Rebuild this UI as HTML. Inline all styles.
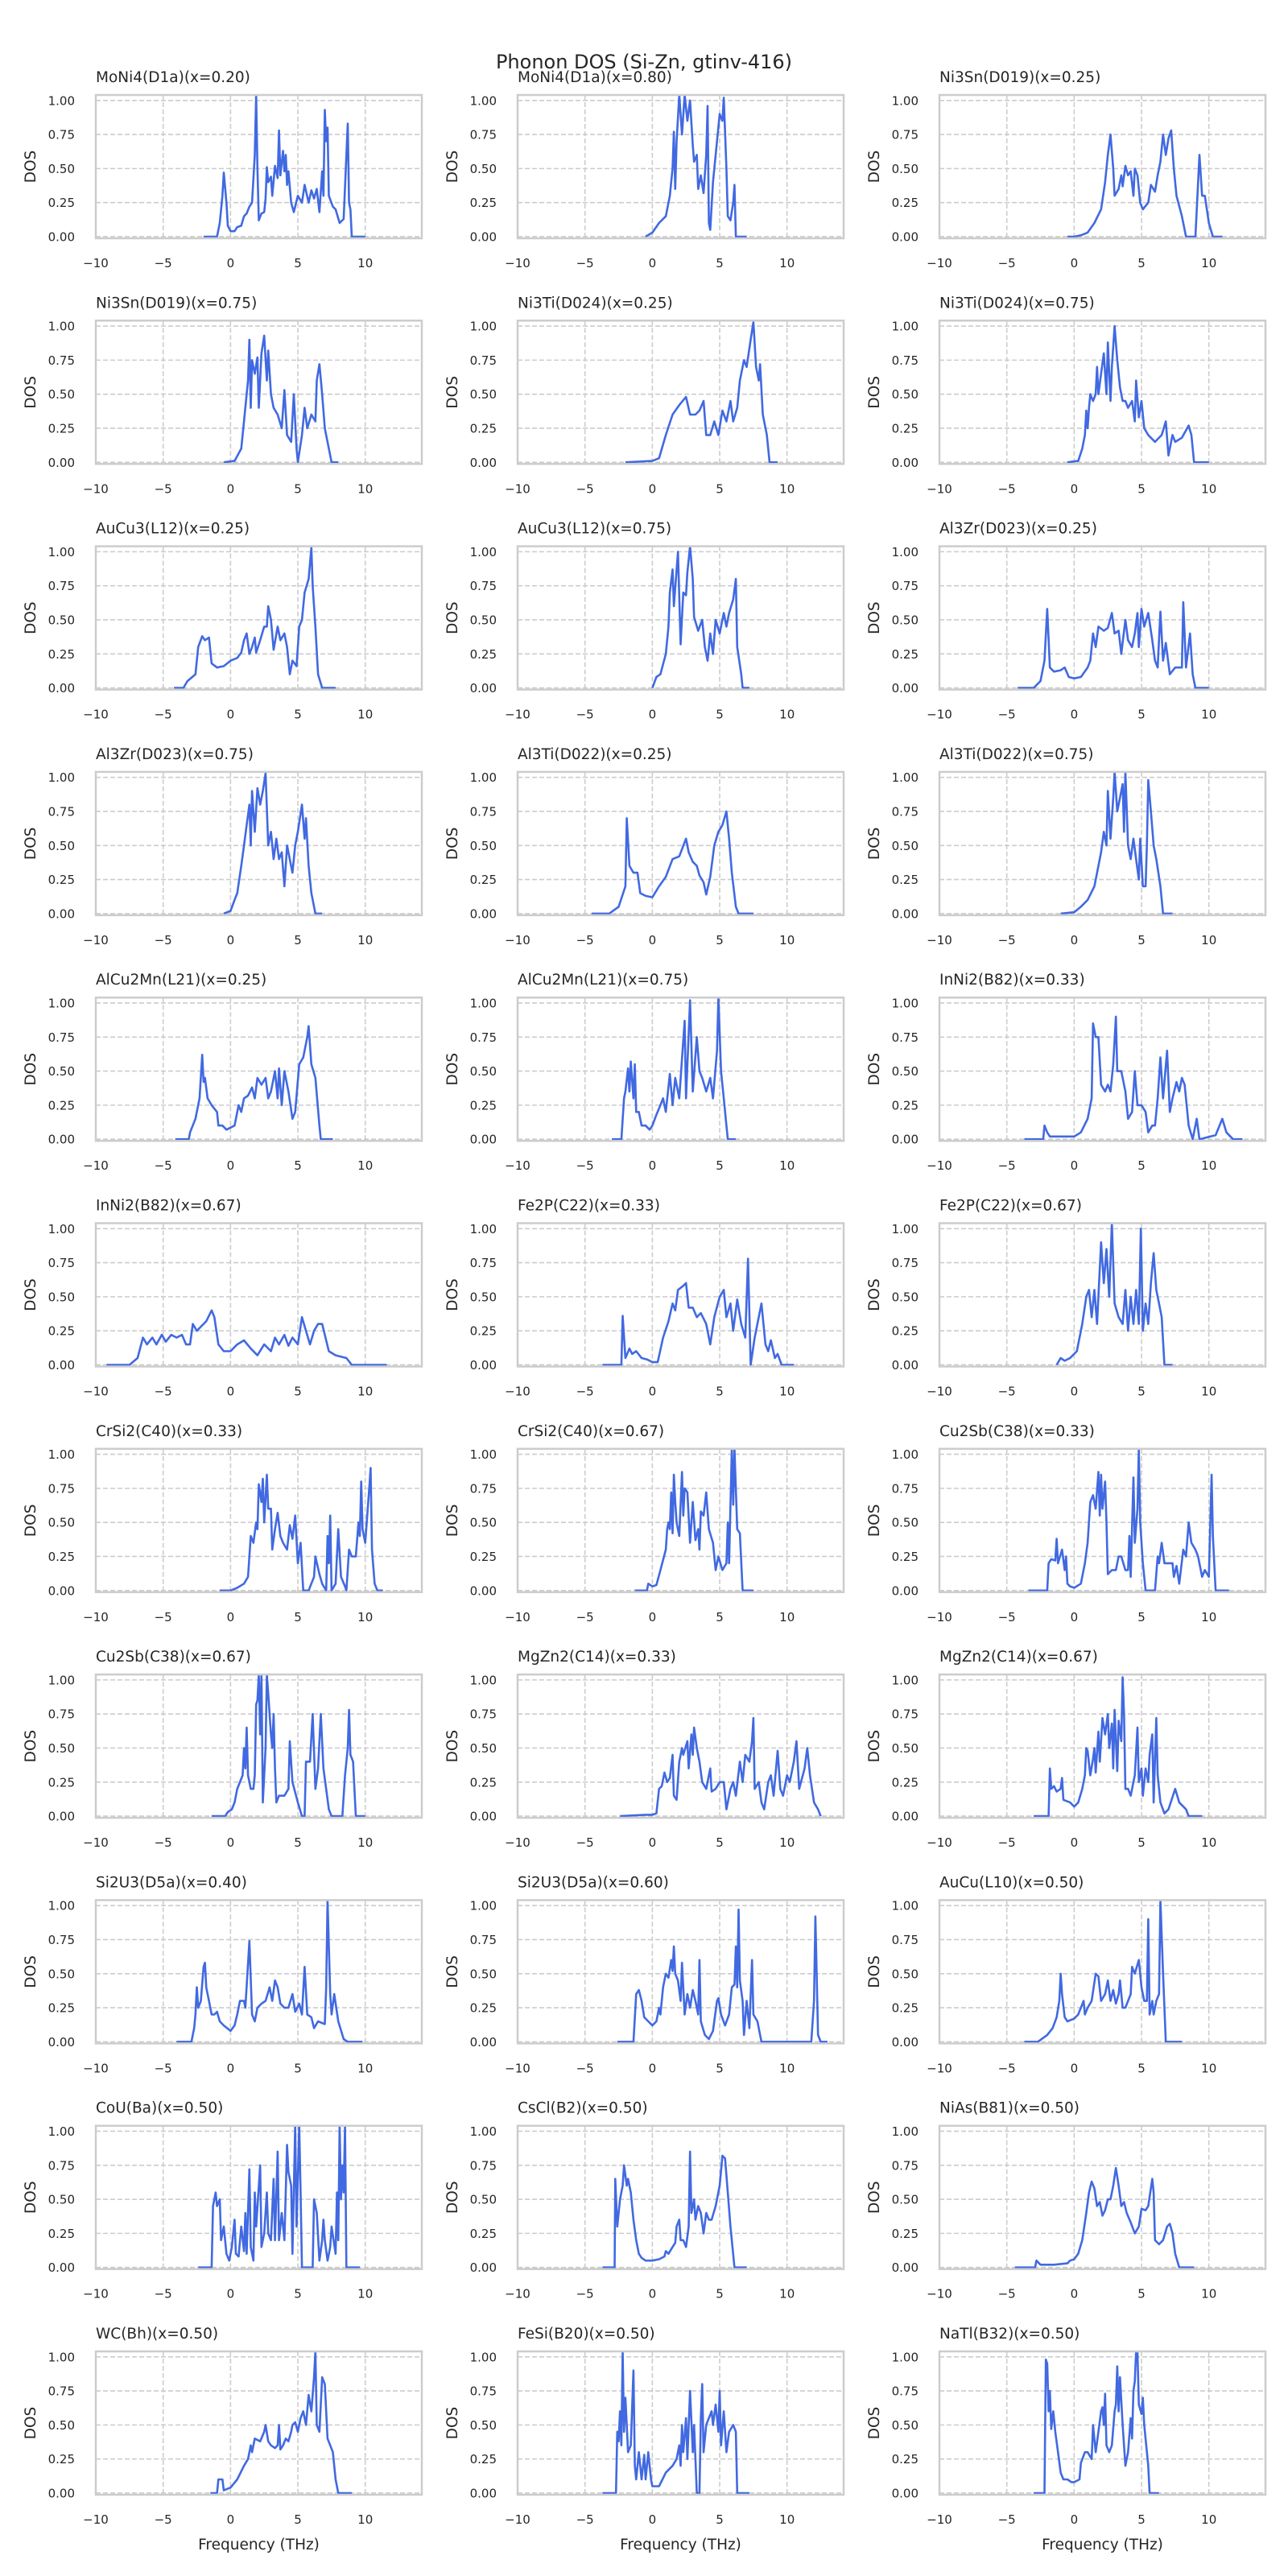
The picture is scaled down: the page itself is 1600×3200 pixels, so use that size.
<!DOCTYPE html>
<html><head><meta charset="utf-8"><title>Phonon DOS (Si-Zn, gtinv-416)</title>
<style>
html,body{margin:0;padding:0;background:#fff;}
svg{display:block;font-family:"DejaVu Sans","Liberation Sans",sans-serif;}
</style></head>
<body>
<svg id="fig" width="1600" height="3200" viewBox="0 0 1600 3200" xmlns="http://www.w3.org/2000/svg">
<rect width="1600" height="3200" fill="#ffffff"/>
<text x="800" y="85" text-anchor="middle" font-size="24" fill="#262626">Phonon DOS (Si-Zn, gtinv-416)</text>
</svg>
<script>
const titles = ["MoNi4(D1a)(x=0.20)","MoNi4(D1a)(x=0.80)","Ni3Sn(D019)(x=0.25)","Ni3Sn(D019)(x=0.75)","Ni3Ti(D024)(x=0.25)","Ni3Ti(D024)(x=0.75)","AuCu3(L12)(x=0.25)","AuCu3(L12)(x=0.75)","Al3Zr(D023)(x=0.25)","Al3Zr(D023)(x=0.75)","Al3Ti(D022)(x=0.25)","Al3Ti(D022)(x=0.75)","AlCu2Mn(L21)(x=0.25)","AlCu2Mn(L21)(x=0.75)","InNi2(B82)(x=0.33)","InNi2(B82)(x=0.67)","Fe2P(C22)(x=0.33)","Fe2P(C22)(x=0.67)","CrSi2(C40)(x=0.33)","CrSi2(C40)(x=0.67)","Cu2Sb(C38)(x=0.33)","Cu2Sb(C38)(x=0.67)","MgZn2(C14)(x=0.33)","MgZn2(C14)(x=0.67)","Si2U3(D5a)(x=0.40)","Si2U3(D5a)(x=0.60)","AuCu(L10)(x=0.50)","CoU(Ba)(x=0.50)","CsCl(B2)(x=0.50)","NiAs(B81)(x=0.50)","WC(Bh)(x=0.50)","FeSi(B20)(x=0.50)","NaTl(B32)(x=0.50)"];
const xTicks = [-10,-5,0,5,10];
const xTickLabels = ["\u221210","\u22125","0","5","10"];
const yTicks = [0,0.25,0.5,0.75,1.0];
const yTickLabels = ["0.00","0.25","0.50","0.75","1.00"];
const xLim = [-10, 14.2];
const yLim = [-0.012, 1.04];

const dos01 = [[-2,0],[-1,0],[-0.8,.1],[-0.6,.3],[-0.5,.47],[-0.3,.25],[-0.2,.08],[0,.04],[0.3,.04],[0.5,.07],[0.8,.08],[1.0,.15],[1.2,.17],[1.4,.22],[1.6,.25],[1.8,.6],[1.9,1.04],[2.0,.5],[2.1,.12],[2.3,.17],[2.5,.18],[2.6,.28],[2.7,.51],[2.8,.4],[3.0,.44],[3.1,.3],[3.3,.52],[3.5,.43],[3.6,.78],[3.7,.45],[3.9,.63],[4.0,.48],[4.1,.6],[4.2,.38],[4.3,.48],[4.5,.25],[4.7,.18],[5.0,.3],[5.3,.25],[5.5,.38],[5.8,.25],[6.0,.34],[6.2,.28],[6.4,.35],[6.6,.18],[6.8,.48],[6.9,.3],[7.0,.93],[7.1,.7],[7.2,.8],[7.3,.3],[7.6,.22],[7.8,.2],[8.1,.1],[8.4,.13],[8.6,.6],[8.7,.83],[8.8,.25],[8.9,.2],[9.0,0],[10,0]];
const dos02 = [[-0.5,0],[0,.03],[0.5,.1],[1.0,.15],[1.3,.3],[1.5,.5],[1.6,.77],[1.7,.35],[1.8,.7],[2.0,1.04],[2.2,.75],[2.4,1.04],[2.6,.85],[2.8,1.0],[3.0,.67],[3.1,.55],[3.3,.6],[3.4,.35],[3.6,.45],[3.8,.32],[4.0,.6],[4.1,.96],[4.2,.1],[4.3,.05],[4.5,.4],[5.0,.9],[5.2,.85],[5.3,1.02],[5.5,.5],[5.6,.15],[5.8,.12],[6.0,.25],[6.1,.38],[6.2,0],[7,0]];
const dos03 = [[-0.5,0],[0,0],[0.5,.01],[1.0,.03],[1.5,.1],[2.0,.2],[2.3,.4],[2.5,.6],[2.7,.75],[2.9,.5],[3.0,.3],[3.3,.35],[3.5,.45],[3.6,.37],[3.8,.52],[4.0,.45],[4.2,.48],[4.4,.3],[4.5,.5],[4.7,.45],[4.9,.25],[5.1,.2],[5.5,.25],[5.7,.38],[6.0,.33],[6.2,.45],[6.4,.55],[6.6,.75],[6.8,.6],[7.0,.72],[7.2,.78],[7.4,.5],[7.6,.3],[8.0,.15],[8.3,0],[9.0,0],[9.3,.6],[9.5,.3],[9.7,.3],[10.0,.1],[10.3,0],[11,0]];
const dos04 = [[-0.5,0],[0.3,.01],[0.8,.1],[1.0,.3],[1.2,.5],[1.3,.6],[1.4,.9],[1.5,.4],[1.6,.75],[1.8,.65],[2.0,.77],[2.1,.4],[2.3,.8],[2.5,.93],[2.7,.6],[2.8,.82],[3.0,.5],[3.2,.4],[3.5,.35],[3.8,.25],[4.0,.53],[4.2,.2],[4.5,.15],[4.7,.5],[4.9,.1],[5.0,0],[5.3,.2],[5.5,.4],[5.7,.25],[6.0,.35],[6.3,.3],[6.4,.6],[6.6,.72],[6.8,.5],[7.0,.25],[7.3,.1],[7.5,0],[8,0]];
const dos05 = [[-2,0],[0,.01],[0.5,.03],[1,.2],[1.5,.35],[2.0,.42],[2.5,.48],[2.8,.35],[3.2,.35],[3.5,.38],[3.8,.45],[4.0,.2],[4.3,.2],[4.6,.3],[4.9,.2],[5.2,.38],[5.5,.3],[5.8,.45],[6.0,.3],[6.3,.4],[6.5,.6],[6.8,.75],[7.0,.7],[7.3,.9],[7.5,1.03],[7.7,.7],[7.9,.6],[8.0,.72],[8.2,.35],[8.5,.2],[8.7,0],[9.3,0]];
const dos06 = [[-0.5,0],[0.3,.01],[0.6,.1],[0.8,.2],[0.9,.38],[1.0,.25],[1.1,.4],[1.2,.5],[1.4,.45],[1.6,.5],[1.7,.7],[1.8,.5],[2.0,.65],[2.2,.8],[2.4,.5],[2.5,.88],[2.7,.45],[2.8,.7],[3.0,1.0],[3.2,.75],[3.4,.55],[3.6,.45],[3.8,.45],[4.0,.4],[4.3,.45],[4.5,.3],[4.6,.6],[4.8,.33],[5.0,.45],[5.2,.25],[5.5,.2],[6.0,.15],[6.5,.2],[6.8,.3],[7.0,.05],[7.3,.2],[7.5,.15],[8.0,.18],[8.5,.27],[8.7,.2],[8.9,0],[10,0]];
const dos07 = [[-4.2,0],[-3.5,0],[-3.2,.05],[-2.6,.1],[-2.4,.3],[-2.1,.38],[-1.9,.35],[-1.6,.37],[-1.4,.18],[-1.0,.15],[-0.5,.16],[0,.2],[0.5,.22],[0.8,.26],[1.0,.35],[1.2,.4],[1.4,.25],[1.6,.3],[1.8,.37],[1.9,.26],[2.2,.35],[2.5,.45],[2.7,.45],[2.8,.6],[3.0,.5],[3.2,.28],[3.5,.45],[3.7,.35],[4.0,.4],[4.2,.3],[4.4,.1],[4.6,.2],[4.9,.16],[5.1,.45],[5.3,.5],[5.5,.7],[5.8,.8],[6.0,1.03],[6.1,.75],[6.3,.45],[6.5,.1],[6.8,0],[7.8,0]];
const dos08 = [[0,0],[0.3,.08],[0.6,.1],[1.0,.25],[1.2,.45],[1.3,.7],[1.5,.87],[1.6,.6],[1.9,1.0],[2.1,.32],[2.3,.7],[2.5,.68],[2.6,.85],[2.8,1.04],[3.0,.8],[3.1,.52],[3.4,.42],[3.7,.5],[3.9,.3],[4.1,.2],[4.3,.4],[4.5,.25],[4.7,.5],[5.0,.4],[5.3,.55],[5.5,.45],[5.7,.55],[6.0,.65],[6.2,.8],[6.3,.3],[6.6,.1],[6.7,0],[7.2,0]];
const dos09 = [[-4.2,0],[-3.0,0],[-2.5,.05],[-2.2,.2],[-2.0,.58],[-1.8,.15],[-1.5,.12],[-1.0,.13],[-0.7,.15],[-0.4,.08],[0,.07],[0.5,.08],[1.0,.15],[1.2,.2],[1.4,.4],[1.6,.3],[1.8,.45],[2.2,.42],[2.5,.44],[2.8,.55],[3.0,.4],[3.3,.42],[3.5,.25],[3.8,.5],[4.0,.35],[4.3,.3],[4.5,.4],[4.7,.55],[4.8,.3],[5.0,.58],[5.2,.45],[5.5,.55],[5.8,.35],[6.0,.2],[6.2,.15],[6.4,.56],[6.6,.2],[6.8,.33],[7.1,.1],[7.5,.15],[8.0,.15],[8.1,.63],[8.3,.15],[8.6,.4],[8.8,.1],[9.0,0],[10,0]];
const dos10 = [[-0.5,0],[0,.02],[0.3,.1],[0.5,.15],[0.8,.35],[1.0,.5],[1.2,.65],[1.4,.8],[1.5,.5],[1.6,.9],[1.8,.6],[2.0,.92],[2.2,.8],[2.4,.9],[2.6,1.03],[2.8,.5],[3.0,.6],[3.2,.4],[3.4,.55],[3.6,.4],[3.8,.45],[4.0,.2],[4.2,.5],[4.6,.3],[4.8,.5],[5.0,.6],[5.3,.8],[5.5,.55],[5.6,.7],[5.8,.35],[6.0,.15],[6.3,0],[6.8,0]];
const dos11 = [[-4.5,0],[-3.2,0],[-2.5,.05],[-2.0,.2],[-1.9,.7],[-1.7,.35],[-1.4,.3],[-1.1,.3],[-0.9,.15],[-0.5,.13],[0,.12],[0.5,.2],[1.0,.27],[1.5,.4],[2.0,.42],[2.5,.55],[2.7,.45],[3.0,.38],[3.3,.35],[3.5,.28],[3.8,.23],[4.0,.14],[4.3,.27],[4.6,.5],[4.9,.6],[5.2,.65],[5.5,.75],[5.7,.55],[5.9,.3],[6.2,.05],[6.4,0],[7.5,0]];
const dos12 = [[-1,0],[0,.01],[0.5,.05],[1,.1],[1.5,.2],[1.8,.35],[2.0,.45],[2.2,.6],[2.4,.5],[2.5,.9],[2.7,.55],[2.9,.85],[3.0,1.04],[3.2,.75],[3.4,.85],[3.6,.95],[3.7,.6],[3.8,1.04],[4.0,.5],[4.2,.4],[4.4,.55],[4.6,.4],[4.8,.25],[4.9,.55],[5.1,.2],[5.3,.2],[5.4,.5],[5.5,.98],[5.7,.75],[5.9,.5],[6.1,.4],[6.4,.2],[6.6,0],[7.3,0]];
const dos13 = [[-4.1,0],[-3.1,0],[-3.0,.05],[-2.6,.15],[-2.3,.3],[-2.1,.62],[-2.0,.42],[-1.9,.45],[-1.7,.3],[-1.4,.25],[-1.0,.2],[-0.9,.1],[-0.6,.1],[-0.3,.07],[0.3,.1],[0.6,.25],[0.8,.2],[1.0,.3],[1.3,.32],[1.6,.38],[1.8,.3],[2.0,.45],[2.3,.4],[2.6,.45],[2.8,.3],[3.0,.35],[3.3,.5],[3.5,.3],[3.6,.52],[3.8,.25],[4.0,.5],[4.3,.35],[4.6,.15],[4.8,.2],[5.1,.55],[5.4,.6],[5.7,.75],[5.8,.83],[6.0,.55],[6.3,.45],[6.6,.1],[6.7,0],[7.6,0]];
const dos14 = [[-3.0,0],[-2.3,0],[-2.1,.3],[-2.0,.35],[-1.8,.52],[-1.7,.35],[-1.6,.57],[-1.4,.3],[-1.3,.55],[-1.2,.2],[-1.0,.2],[-0.8,.1],[-0.5,.1],[-0.2,.07],[0,.1],[0.3,.18],[0.6,.25],[0.8,.3],[1.0,.2],[1.3,.48],[1.5,.25],[1.7,.45],[2.0,.3],[2.4,.87],[2.5,.3],[2.8,1.02],[3.0,.35],[3.3,.75],[3.5,.5],[3.7,.45],[4.0,.35],[4.3,.45],[4.5,.3],[4.8,.65],[4.9,1.04],[5.1,.5],[5.3,.3],[5.5,.1],[5.6,0],[6.2,0]];
const dos15 = [[-3.7,0],[-2.3,0],[-2.2,.1],[-2.0,.05],[-1.8,.02],[-1.0,.02],[0,.02],[0.5,.05],[1.0,.15],[1.3,.3],[1.4,.85],[1.6,.75],[1.8,.75],[2.0,.4],[2.3,.35],[2.5,.4],[2.7,.35],[2.9,.55],[3.1,.9],[3.2,.5],[3.5,.5],[3.8,.35],[4.0,.15],[4.3,.2],[4.5,.5],[4.7,.25],[5.0,.25],[5.3,.2],[5.5,.05],[5.8,.1],[6.0,.1],[6.2,.3],[6.4,.6],[6.6,.3],[6.9,.65],[7.1,.2],[7.3,.3],[7.6,.42],[7.8,.35],[8.0,.45],[8.2,.4],[8.5,.1],[8.8,0],[9.1,.15],[9.3,0],[10.5,.03],[11.0,.15],[11.3,.05],[11.8,0],[12.5,0]];
const dos16 = [[-9.2,0],[-7.5,0],[-6.9,.05],[-6.5,.2],[-6.2,.15],[-5.8,.2],[-5.5,.15],[-5.1,.22],[-4.8,.17],[-4.4,.22],[-4.0,.2],[-3.6,.22],[-3.3,.15],[-3.0,.15],[-2.8,.3],[-2.5,.25],[-2.2,.28],[-1.8,.32],[-1.4,.4],[-1.2,.35],[-0.9,.15],[-0.5,.1],[0,.1],[0.5,.15],[1.0,.18],[1.5,.12],[2.0,.07],[2.5,.15],[3.0,.1],[3.3,.2],[3.6,.15],[4.0,.22],[4.3,.14],[4.6,.2],[5.0,.15],[5.3,.35],[5.6,.25],[5.9,.15],[6.2,.25],[6.5,.3],[6.8,.3],[7.3,.1],[7.8,.07],[8.6,.05],[9.0,0],[11.6,0]];
const dos17 = [[-3.7,0],[-2.3,0],[-2.2,.36],[-2.0,.05],[-1.7,.12],[-1.5,.08],[-1.2,.1],[-0.8,.05],[-0.4,.04],[0,.02],[0.4,.02],[0.8,.2],[1.2,.32],[1.5,.45],[1.7,.4],[1.9,.55],[2.3,.58],[2.5,.6],[2.7,.42],[3.0,.42],[3.3,.35],[3.6,.38],[4.0,.3],[4.3,.15],[4.6,.35],[5.0,.5],[5.3,.55],[5.5,.35],[5.8,.45],[6.0,.25],[6.3,.48],[6.6,.3],[6.9,.2],[7.1,.78],[7.3,0],[7.6,.2],[8.1,.45],[8.4,.15],[8.6,.1],[8.8,.18],[9.1,.05],[9.3,.08],[9.6,0],[10.5,0]];
const dos18 = [[-1.3,0],[-1.0,.05],[-0.7,.03],[-0.3,.05],[0.2,.1],[0.6,.3],[0.9,.5],[1.1,.55],[1.3,.35],[1.5,.55],[1.7,.3],[2.0,.9],[2.2,.6],[2.4,.85],[2.6,.5],[2.8,1.04],[3.0,.45],[3.3,.35],[3.6,.3],[3.8,.55],[4.0,.25],[4.2,.5],[4.4,.3],[4.6,.55],[4.8,.3],[4.95,1.0],[5.1,.25],[5.3,.45],[5.5,.3],[5.7,.6],[5.9,.82],[6.1,.55],[6.3,.45],[6.5,.35],[6.7,0],[7.3,0]];
const dos19 = [[-0.8,0],[0,0],[0.5,.02],[1.0,.05],[1.3,.1],[1.5,.4],[1.7,.35],[1.9,.5],[2.0,.45],[2.1,.78],[2.3,.65],[2.4,.82],[2.5,.5],[2.7,.85],[2.8,.6],[3.0,.6],[3.1,.3],[3.3,.45],[3.5,.57],[3.7,.4],[3.9,.35],[4.2,.3],[4.4,.48],[4.6,.38],[4.8,.55],[5.0,.2],[5.2,.35],[5.4,0],[5.8,0],[6.2,.1],[6.3,.25],[6.6,.12],[6.8,.05],[7.1,0],[7.2,.4],[7.3,.2],[7.4,.55],[7.5,0],[7.8,.05],[8.0,.45],[8.2,.1],[8.5,.03],[8.6,0],[8.8,.3],[9.0,.25],[9.3,.25],[9.5,.5],[9.6,.4],[9.7,.8],[9.8,.45],[10.0,.35],[10.3,.75],[10.4,.9],[10.5,.3],[10.7,.05],[10.9,0],[11.3,0]];
const dos20 = [[-1.3,0],[-0.4,0],[-0.3,.05],[0,.03],[0.3,.04],[0.6,.15],[1.0,.3],[1.1,.45],[1.2,.5],[1.3,.45],[1.4,.72],[1.5,.42],[1.6,.85],[1.7,.65],[1.8,.5],[2.0,.4],[2.2,.87],[2.3,.55],[2.4,.75],[2.6,.72],[2.8,.35],[3.0,.65],[3.2,.37],[3.4,.45],[3.5,.3],[3.6,.58],[3.8,.55],[4.0,.72],[4.2,.45],[4.5,.35],[4.7,.15],[4.9,.25],[5.2,.15],[5.5,.2],[5.6,.5],[5.7,.2],[5.9,1.04],[6.0,.63],[6.1,1.04],[6.3,.45],[6.5,.42],[6.7,0],[7.5,0]];
const dos21 = [[-3.4,0],[-2.0,0],[-1.9,.2],[-1.7,.23],[-1.4,.22],[-1.3,.38],[-1.2,.2],[-0.9,.3],[-0.7,.15],[-0.6,.25],[-0.5,.05],[-0.3,.03],[0,.02],[0.5,.05],[0.8,.2],[1.0,.35],[1.2,.65],[1.4,.7],[1.6,.6],[1.8,.87],[1.9,.55],[2.0,.85],[2.1,.6],[2.3,.8],[2.4,.5],[2.5,.12],[2.8,.15],[3.1,.15],[3.3,.25],[3.5,.25],[3.8,.15],[4.0,.15],[4.1,.4],[4.2,.1],[4.4,.83],[4.5,.35],[4.7,.6],[4.8,1.04],[4.9,.5],[5.1,.2],[5.3,0],[6.0,0],[6.2,.25],[6.3,.2],[6.5,.35],[6.7,.2],[7.0,.2],[7.3,.2],[7.4,.1],[7.6,.18],[7.8,.05],[8.1,.3],[8.3,.25],[8.5,.5],[8.7,.35],[9.0,.3],[9.2,.25],[9.5,.1],[9.7,.15],[10.0,.1],[10.2,.85],[10.3,.4],[10.5,0],[11.5,0]];
const dos22 = [[-1.4,0],[-0.4,0],[-0.2,.03],[0.1,.05],[0.3,.1],[0.5,.2],[0.7,.25],[0.9,.3],[1.0,.5],[1.1,.35],[1.2,.65],[1.3,.3],[1.5,.2],[1.7,.2],[1.8,.3],[1.9,.82],[2.0,.85],[2.1,1.04],[2.2,.6],[2.3,1.04],[2.4,.1],[2.6,.5],[2.7,1.04],[2.8,.9],[3.0,.6],[3.1,.5],[3.2,.75],[3.3,.35],[3.4,.1],[3.6,.15],[3.8,.15],[4.0,.15],[4.3,.2],[4.4,.55],[4.6,.25],[5.0,.1],[5.3,0],[5.5,0],[5.6,.4],[5.9,.4],[6.1,.75],[6.3,.2],[6.5,.35],[6.7,.75],[6.9,.35],[7.3,.05],[7.5,0],[8.3,0],[8.5,.3],[8.7,.5],[8.8,.78],[8.9,.45],[9.1,.4],[9.3,0],[10,0]];
const dos23 = [[-2.4,0],[-0.5,.01],[0,.01],[0.3,.02],[0.5,.2],[0.7,.22],[0.9,.32],[1.1,.25],[1.3,.28],[1.5,.45],[1.6,.15],[1.8,.12],[2.0,.4],[2.2,.5],[2.3,.45],[2.6,.55],[2.7,.35],[2.9,.6],[3.0,.45],[3.1,.65],[3.3,.5],[3.5,.4],[3.7,.25],[4.0,.2],[4.3,.35],[4.4,.18],[4.7,.2],[5.0,.25],[5.3,.25],[5.5,.05],[5.8,.2],[6.0,.25],[6.2,.15],[6.5,.4],[6.7,.25],[6.9,.45],[7.2,.4],[7.4,.55],[7.5,.72],[7.6,.2],[7.9,.25],[8.1,.1],[8.3,.05],[8.6,.25],[8.8,.3],[9.0,.15],[9.3,.48],[9.5,.2],[9.7,.15],[10.0,.3],[10.2,.25],[10.5,.4],[10.7,.55],[10.9,.2],[11.3,.35],[11.5,.5],[11.7,.3],[12.0,.1],[12.3,.05],[12.5,0]];
const dos24 = [[-3.0,0],[-1.9,0],[-1.8,.35],[-1.7,.2],[-1.5,.22],[-1.3,.18],[-1.0,.2],[-0.9,.28],[-0.8,.12],[-0.3,.1],[0,.07],[0.3,.1],[0.6,.2],[0.8,.3],[0.9,.5],[1.0,.48],[1.2,.3],[1.4,.42],[1.5,.5],[1.6,.32],[1.8,.62],[1.9,.4],[2.1,.72],[2.3,.6],[2.5,.75],[2.6,.5],[2.8,.68],[2.9,.35],[3.0,.78],[3.2,.33],[3.3,.7],[3.5,.55],[3.6,1.02],[3.7,.75],[3.8,.2],[4.0,.2],[4.2,.15],[4.5,.3],[4.7,.65],[4.8,.25],[5.0,.35],[5.1,.15],[5.3,.35],[5.5,.25],[5.6,.45],[5.8,.6],[5.9,.1],[6.1,.72],[6.2,.3],[6.4,.1],[6.7,.02],[7.0,.05],[7.5,.2],[7.8,.1],[8.3,.05],[8.5,0],[9.5,0]];
const dos25 = [[-4.0,0],[-2.9,0],[-2.7,.1],[-2.6,.2],[-2.5,.4],[-2.4,.25],[-2.2,.3],[-2.0,.55],[-1.9,.58],[-1.8,.4],[-1.6,.3],[-1.4,.2],[-1.2,.2],[-1.0,.22],[-0.8,.15],[-0.5,.12],[0,.08],[0.3,.12],[0.5,.2],[0.7,.3],[1.0,.3],[1.1,.25],[1.4,.74],[1.6,.2],[1.8,.15],[2.0,.25],[2.3,.28],[2.6,.3],[2.9,.4],[3.1,.3],[3.3,.45],[3.5,.4],[3.7,.28],[4.0,.25],[4.3,.25],[4.6,.35],[4.8,.22],[5.1,.28],[5.3,.2],[5.5,.55],[5.7,.2],[6.0,.18],[6.2,.1],[6.5,.15],[7.0,.13],[7.1,.4],[7.2,1.04],[7.4,.35],[7.5,.2],[7.7,.35],[8.0,.15],[8.4,.02],[8.7,0],[9.8,0]];
const dos26 = [[-2.6,0],[-1.4,0],[-1.2,.35],[-1.0,.38],[-0.8,.3],[-0.6,.18],[-0.3,.15],[0,.12],[0.3,.15],[0.5,.25],[0.6,.2],[0.8,.4],[1.0,.5],[1.2,.47],[1.4,.6],[1.5,.52],[1.6,.7],[1.7,.5],[1.9,.45],[2.1,.3],[2.2,.58],[2.4,.2],[2.6,.35],[2.8,.25],[3.0,.38],[3.2,.3],[3.4,.2],[3.5,.6],[3.6,.15],[3.9,.05],[4.2,.02],[4.5,.08],[4.8,.3],[4.9,.32],[5.1,.2],[5.4,.12],[5.7,.2],[5.9,.4],[6.1,.42],[6.2,.7],[6.3,.4],[6.4,.97],[6.5,.45],[6.7,.3],[6.8,.05],[7.0,.3],[7.2,.1],[7.4,.6],[7.5,.2],[7.8,.15],[8.1,0],[11.8,0],[12.0,.3],[12.1,.92],[12.3,.05],[12.5,0],[13.0,0]];
const dos27 = [[-3.7,0],[-2.7,0],[-2.0,.05],[-1.6,.1],[-1.3,.18],[-1.1,.3],[-1.0,.5],[-0.9,.35],[-0.7,.18],[-0.5,.15],[0,.17],[0.3,.2],[0.5,.25],[0.7,.3],[0.8,.2],[1.0,.25],[1.3,.3],[1.6,.5],[1.8,.48],[2.0,.3],[2.3,.35],[2.5,.45],[2.7,.3],[2.9,.38],[3.1,.28],[3.3,.35],[3.4,.45],[3.6,.25],[3.8,.25],[4.2,.35],[4.3,.55],[4.5,.5],[4.8,.6],[5.0,.4],[5.2,.3],[5.4,.3],[5.5,.9],[5.6,.2],[5.8,.3],[5.9,.2],[6.1,.3],[6.3,.35],[6.4,1.04],[6.6,.5],[6.8,0],[8.0,0]];
const dos28 = [[-2.4,0],[-1.4,0],[-1.3,.45],[-1.1,.55],[-1.0,.45],[-0.8,.5],[-0.7,.2],[-0.5,.3],[-0.3,.1],[-0.1,.05],[0.1,.15],[0.3,.35],[0.4,.1],[0.6,.08],[0.8,.3],[1.0,.12],[1.1,.4],[1.2,.1],[1.4,.72],[1.5,.15],[1.7,.05],[1.8,.55],[1.9,.3],[2.2,.75],[2.3,.15],[2.5,.25],[2.7,.55],[2.8,.25],[3.0,.2],[3.2,.65],[3.3,.2],[3.5,.85],[3.6,.2],[3.8,.4],[4.0,.2],[4.2,.9],[4.3,.7],[4.5,.6],[4.6,.1],[4.8,1.04],[4.9,.3],[5.1,1.04],[5.2,.55],[5.3,0],[6.1,0],[6.2,.5],[6.4,.4],[6.6,.05],[6.8,.2],[6.9,.35],[7.0,.2],[7.2,.05],[7.4,.15],[7.5,.3],[7.8,.1],[7.9,.55],[8.0,.2],[8.1,1.04],[8.2,.5],[8.3,.75],[8.4,.55],[8.5,1.04],[8.6,0],[9.6,0]];
const dos29 = [[-3.7,0],[-2.8,0],[-2.75,.65],[-2.6,.3],[-2.4,.5],[-2.2,.6],[-2.1,.75],[-1.9,.6],[-1.8,.65],[-1.6,.55],[-1.4,.35],[-1.2,.2],[-1.0,.1],[-0.8,.07],[-0.5,.05],[0,.05],[0.5,.06],[0.9,.08],[1.0,.12],[1.2,.1],[1.5,.15],[1.7,.18],[1.8,.3],[2.0,.35],[2.1,.2],[2.3,.2],[2.5,.15],[2.7,.3],[2.8,.85],[2.9,.4],[3.1,.5],[3.2,.35],[3.4,.45],[3.6,.4],[3.8,.25],[4.0,.4],[4.2,.35],[4.4,.35],[4.7,.45],[5.0,.6],[5.2,.82],[5.4,.8],[5.6,.55],[5.8,.3],[6.1,0],[7.0,0]];
const dos30 = [[-4.4,0],[-2.9,0],[-2.8,.05],[-2.5,.02],[-1.5,.02],[-0.5,.03],[-0.3,.05],[0,.06],[0.3,.1],[0.6,.2],[0.9,.4],[1.1,.55],[1.3,.63],[1.5,.58],[1.7,.45],[1.9,.48],[2.1,.38],[2.3,.42],[2.5,.5],[2.7,.5],[2.9,.6],[3.1,.73],[3.3,.6],[3.5,.45],[3.7,.48],[3.9,.4],[4.2,.33],[4.5,.25],[4.8,.3],[5.0,.43],[5.3,.42],[5.5,.45],[5.8,.65],[5.9,.55],[6.0,.2],[6.3,.17],[6.6,.2],[6.9,.3],[7.1,.32],[7.3,.25],[7.5,.1],[7.8,0],[8.9,0]];
const dos31 = [[-1.5,0],[-1.0,0],[-0.9,.1],[-0.6,.1],[-0.5,.02],[0,.04],[0.5,.1],[1.0,.2],[1.3,.25],[1.5,.35],[1.6,.3],[1.8,.4],[2.2,.38],[2.5,.45],[2.6,.5],[2.8,.38],[3.0,.35],[3.3,.33],[3.5,.35],[3.6,.5],[3.7,.32],[3.9,.35],[4.1,.4],[4.3,.38],[4.5,.45],[4.6,.5],[4.8,.52],[5.0,.45],[5.2,.55],[5.4,.6],[5.6,.5],[5.8,.72],[6.0,.6],[6.2,.85],[6.3,1.04],[6.4,.5],[6.6,.45],[6.8,.85],[7.0,.8],[7.2,.4],[7.4,.35],[7.6,.3],[7.8,.1],[8.0,0],[9.0,0]];
const dos32 = [[-3.7,0],[-2.7,0],[-2.6,.45],[-2.5,.38],[-2.4,.6],[-2.3,.35],[-2.2,1.04],[-2.1,.45],[-2.0,.7],[-1.8,.3],[-1.6,.35],[-1.4,.9],[-1.3,.2],[-1.2,.1],[-1.0,.3],[-0.8,.1],[-0.6,.28],[-0.5,.1],[-0.3,.3],[-0.1,.1],[0,.05],[0.5,.05],[1.0,.15],[1.5,.2],[1.8,.25],[2.0,.35],[2.1,.2],[2.2,.5],[2.3,.3],[2.5,.55],[2.6,.25],[2.8,.75],[3.0,.3],[3.1,.5],[3.3,0],[3.5,0],[3.6,.55],[3.7,.8],[3.8,.3],[4.0,.5],[4.2,.55],[4.4,.6],[4.5,.5],[4.7,.65],[4.9,.45],[5.0,.75],[5.1,.35],[5.3,.6],[5.5,.3],[5.7,.45],[6.0,.5],[6.2,.45],[6.3,0],[7.2,0]];
const dos33 = [[-3.0,0],[-2.2,0],[-2.1,.98],[-2.0,.95],[-1.9,.6],[-1.8,.75],[-1.7,.47],[-1.55,.6],[-1.4,.45],[-1.2,.3],[-1.0,.15],[-0.8,.1],[-0.5,.1],[-0.2,.08],[0,.08],[0.4,.1],[0.5,.22],[0.8,.3],[1.0,.3],[1.3,.25],[1.4,.5],[1.6,.3],[1.8,.45],[2.0,.6],[2.1,.63],[2.2,.5],[2.3,.73],[2.4,.35],[2.6,.3],[2.8,.35],[3.0,.6],[3.1,.65],[3.2,.93],[3.3,.6],[3.4,.85],[3.6,.5],[3.7,.35],[3.8,.2],[4.0,.3],[4.2,.55],[4.3,.4],[4.4,.75],[4.5,.82],[4.6,1.04],[4.7,1.04],[4.8,.65],[5.0,.58],[5.1,.7],[5.2,.5],[5.5,.2],[5.6,0],[6.3,0]];
const series = [dos01,dos02,dos03,dos04,dos05,dos06,dos07,dos08,dos09,dos10,dos11,dos12,dos13,dos14,dos15,dos16,dos17,dos18,dos19,dos20,dos21,dos22,dos23,dos24,dos25,dos26,dos27,dos28,dos29,dos30,dos31,dos32,dos33];

const NS = "http://www.w3.org/2000/svg";
const svg = document.getElementById('fig');
const AX_W = 405, AX_H = 178;
function colLeft(c){ return 119 + c*524; }
function rowTop(r){ return 118 + r*280.3; }
function mk(tag, attrs, parent){
  const e = document.createElementNS(NS, tag);
  for (const k in attrs) e.setAttribute(k, attrs[k]);
  parent.appendChild(e);
  return e;
}
const defs = mk('defs', {}, svg);

series.forEach((data, i) => {
  const r = Math.floor(i/3), c = i%3;
  const L = colLeft(c), T = rowTop(r);
  const sx = v => L + (v - xLim[0]) / (xLim[1]-xLim[0]) * AX_W;
  const sy = v => T + (yLim[1] - v) / (yLim[1]-yLim[0]) * AX_H;

  const g = mk('g', {}, svg);
  
  

  const cp = mk('clipPath', {id: 'clip' + i}, defs);
  mk('rect', {x: L, y: T, width: AX_W, height: AX_H}, cp);

  xTicks.forEach(t => {
    const gl = mk('line', {x1: sx(t), x2: sx(t), y1: T, y2: T+AX_H, stroke: '#cccccc', 'stroke-width': 1.6, 'stroke-dasharray': '6,3'}, g);
    
    
  });
  yTicks.forEach(t => {
    const gl = mk('line', {x1: L, x2: L+AX_W, y1: sy(t), y2: sy(t), stroke: '#cccccc', 'stroke-width': 1.6, 'stroke-dasharray': '6,3'}, g);
    
    
  });

  const d = data.map((p, k) => (k ? 'L' : 'M') + sx(p[0]).toFixed(1) + ',' + sy(p[1]).toFixed(1)).join('');
  const path = mk('path', {d: d, fill: 'none', stroke: '#4169e1', 'stroke-width': 2.6, 'stroke-linejoin': 'round', 'clip-path': 'url(#clip' + i + ')'}, g);
  
  

  const sp = mk('rect', {x: L, y: T, width: AX_W, height: AX_H, fill: 'none', stroke: '#cccccc', 'stroke-width': 2.5}, g);
  
  

  xTicks.forEach((t, k) => {
    const tx = mk('text', {x: sx(t), y: T+AX_H+36, 'text-anchor': 'middle', 'font-size': 15, fill: '#262626'}, g);
    
    
    tx.textContent = xTickLabels[k];
  });
  yTicks.forEach((t, k) => {
    const tx = mk('text', {x: L-26, y: sy(t)+5.5, 'text-anchor': 'end', 'font-size': 15, fill: '#262626'}, g);
    
    
    tx.textContent = yTickLabels[k];
  });

  const tt = mk('text', {x: L, y: T-16, 'font-size': 18.5, fill: '#262626'}, g);
  
  
  tt.textContent = titles[i];

  const yl = mk('text', {x: 0, y: 0, 'font-size': 18.5, fill: '#262626', 'text-anchor': 'middle', transform: 'translate(' + (L-75) + ',' + (T+AX_H/2) + ') rotate(-90)'}, g);
  
  
  yl.textContent = 'DOS';

  if (r === 10) {
    const xl = mk('text', {x: L+AX_W/2, y: T+AX_H+68, 'font-size': 18.5, fill: '#262626', 'text-anchor': 'middle'}, g);
    
    
    xl.textContent = 'Frequency (THz)';
  }
});
</script>
</body></html>
